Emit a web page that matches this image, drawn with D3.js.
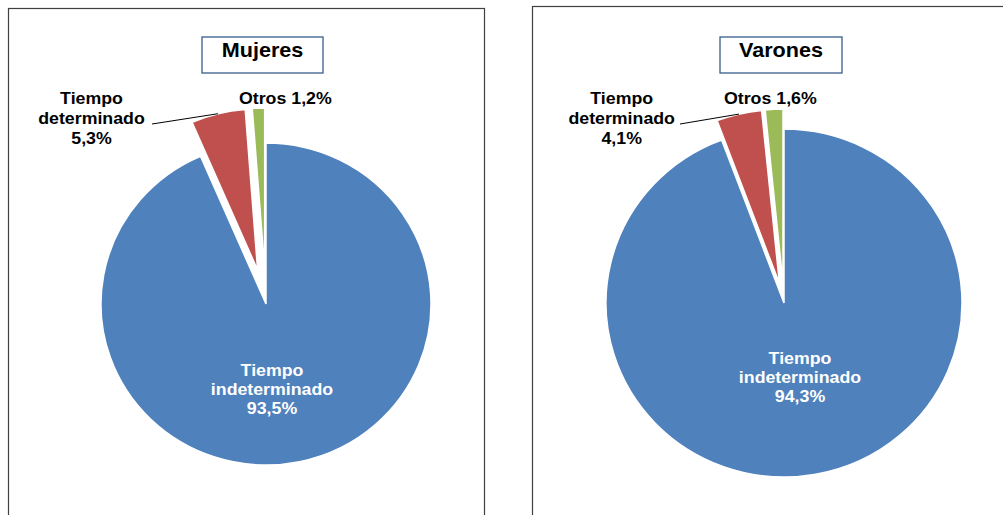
<!DOCTYPE html>
<html>
<head>
<meta charset="utf-8">
<script src="https://cdn.jsdelivr.net/npm/d3@7"></script>
<style>
  body { margin: 0; background: #fff; }
  svg { display: block; }
  text { font-family: "Liberation Sans", Arial, sans-serif; font-weight: bold; }
</style>
</head>
<body>
<svg id="chart" width="1003" height="515"></svg>
<script>
// ----------------------
// DATA
// ----------------------
const categories = ["Tiempo indeterminado", "Tiempo determinado", "Otros"];
const mujeres = [93.5, 5.3, 1.2];
const varones = [94.3, 4.1, 1.6];
const panelTitles = ["Mujeres", "Varones"];

const colors = d3.scaleOrdinal().domain(categories).range(["#4F81BD", "#C0504D", "#9BBB59"]);
const fmt = v => d3.format(".1f")(v).replace(".", ",") + "%";

// ----------------------
// LAYOUT (per panel)
// ----------------------
const panels = [
  {
    values: mujeres, title: panelTitles[0],
    frame: {x: 8.5, y: 8.5, w: 476, h: 520},
    titleBox: {x: 202, y: 37, w: 121, h: 36},
    cx: 266, cy: 304, rx: 165, ry: 161,
    explode: [0, 35, 35],
    inner: {x: 272, y: 376},          // blue label, first baseline
    side: {x: 91.5, y: 104},          // red label, first baseline
    leadFrom: [152, 124],
    otros: {x: 239, y: 104}
  },
  {
    values: varones, title: panelTitles[1],
    frame: {x: 532.5, y: 6.5, w: 500, h: 520},
    titleBox: {x: 720, y: 37, w: 122, h: 36},
    cx: 784, cy: 303, rx: 178, ry: 174,
    explode: [0, 20, 20],
    inner: {x: 800, y: 364},
    side: {x: 621.7, y: 104},
    leadFrom: [680, 124],
    otros: {x: 724, y: 104}
  }
];

const svg = d3.select("#chart");
const pie = d3.pie().sort(null).value(d => d.value);
const sx = 1.09; // horizontal text stretch seen in the source

function multiLine(g, lines, x, y, size, fill, anchor, lh){
  const t = g.append("g").attr("transform", `translate(${x},${y}) scale(${sx},1)`);
  lines.forEach((s, i) => {
    t.append("text").attr("x", 0).attr("y", i*lh)
      .attr("text-anchor", anchor).attr("font-size", size).attr("fill", fill).text(s);
  });
}

panels.forEach(p => {
  const g = svg.append("g");
  // frame
  g.append("rect").attr("x", p.frame.x).attr("y", p.frame.y)
    .attr("width", p.frame.w).attr("height", p.frame.h)
    .attr("fill", "none").attr("stroke", "#404040").attr("stroke-width", 1.2);

  // title box
  g.append("rect").attr("x", p.titleBox.x).attr("y", p.titleBox.y)
    .attr("width", p.titleBox.w).attr("height", p.titleBox.h)
    .attr("fill", "#fff").attr("stroke", "#385D8A").attr("stroke-width", 1.3);
  const tb = g.append("g").attr("transform",
    `translate(${p.titleBox.x + p.titleBox.w/2},${p.titleBox.y + 20}) scale(1.08,1)`);
  tb.append("text").attr("text-anchor", "middle").attr("font-size", 20)
    .attr("fill", "#000").text(p.title);

  // pie slices
  const data = categories.map((c, i) => ({cat: c, value: p.values[i], ex: p.explode[i]}));
  const arcs = pie(data);
  const arc = d3.arc().innerRadius(0).outerRadius(p.ry);
  const k = p.rx / p.ry;

  arcs.forEach(a => {
    const mid = (a.startAngle + a.endAngle) / 2;
    const dx = Math.sin(mid) * a.data.ex, dy = -Math.cos(mid) * a.data.ex;
    a.ox = p.cx + dx; a.oy = p.cy + dy; a.mid = mid;
    g.append("path")
      .attr("transform", `translate(${a.ox},${a.oy}) scale(${k},1)`)
      .attr("d", arc(a))
      .attr("fill", colors(a.data.cat))
      .attr("stroke", "#fff").attr("stroke-width", 1.5)
      .attr("vector-effect", "non-scaling-stroke");
  });

  // blue label (inside)
  const b = arcs[0];
  multiLine(g, ["Tiempo", "indeterminado", fmt(b.data.value)], p.inner.x, p.inner.y, 16.3, "#fff", "middle", 19);

  // red label with leader line
  const r = arcs[1];
  const ex = r.ox + Math.sin(r.mid) * p.rx, ey = r.oy - Math.cos(r.mid) * p.ry;
  g.append("line").attr("x1", p.leadFrom[0]).attr("y1", p.leadFrom[1])
    .attr("x2", ex).attr("y2", ey).attr("stroke", "#000").attr("stroke-width", 1);
  multiLine(g, ["Tiempo", "determinado", fmt(r.data.value)], p.side.x, p.side.y, 16.3, "#000", "middle", 20);

  // green label
  const gr = arcs[2];
  multiLine(g, [gr.data.cat + " " + fmt(gr.data.value)], p.otros.x, p.otros.y, 16.3, "#000", "start", 20);
});
</script>
</body>
</html>
